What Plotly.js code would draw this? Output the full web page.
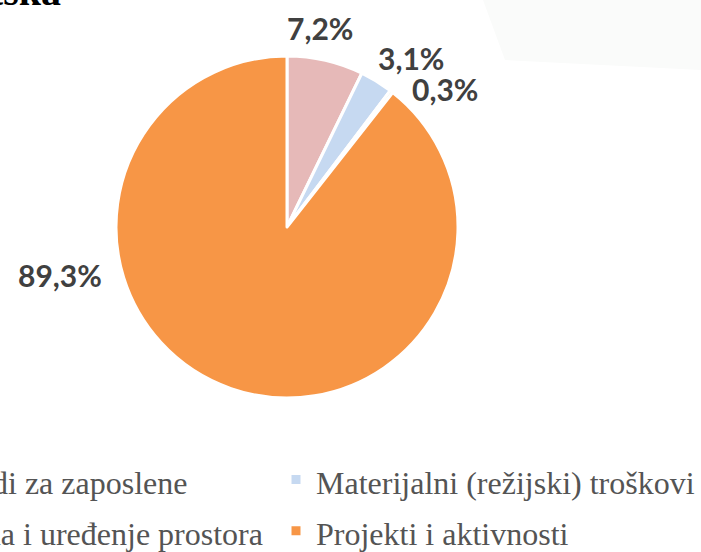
<!DOCTYPE html>
<html>
<head>
<meta charset="utf-8">
<script src="https://cdn.plot.ly/plotly-3.0.1.min.js"></script>
<style>
  html, body { margin: 0; padding: 0; background: #ffffff; overflow: hidden; width: 701px; height: 552px; }
  #chart { position: absolute; left: -140px; top: 0; width: 841px; height: 552px; }
</style>
</head>
<body>
<div id="chart"></div>
<script>
// ---- data ----
const categories = [
  "Rashodi za zaposlene",
  "Materijalni (režijski) troškovi",
  "Oprema i uređenje prostora",
  "Projekti i aktivnosti"
];
const shares = [7.2, 3.1, 0.3, 89.3];
const sliceColors = ["#E6B9B8", "#C6D9F1", "#D7E4BD", "#F79646"];
const titleText = "Hrvatska";

// ---- geometry (pixels in the visible 701x552 window) ----
const OFF = 140;               // the plot div starts 140 px left of the window
const W = 701 + OFF, H = 552;
const cx = 287 + OFF, cy = 227, R = 171;
// visible-window centres of the percentage labels, one per slice
const labelPos = [[320, 28], [411, 58], [445, 89], [60, 275]];

const legendFontPx = 32;
const legendLabels = categories.map(c => '<span style="font-size:' + legendFontPx + 'px">' + c + '</span>');

const fmt = v => v.toFixed(1).replace('.', ',') + '%';

const trace = {
  type: 'pie',
  labels: legendLabels,
  values: shares,
  sort: false,
  direction: 'clockwise',
  rotation: 0,
  marker: { colors: sliceColors, line: { color: '#ffffff', width: 3 } },
  textinfo: 'none',
  textposition: 'none',
  hoverinfo: 'label+value',
  domain: {
    x: [(cx - R) / W, (cx + R) / W],
    y: [1 - (cy + R) / H, 1 - (cy - R) / H]
  },
  showlegend: true
};

const labelAnnotations = shares.map((v, i) => ({
  text: fmt(v),
  xref: 'paper', yref: 'paper',
  x: (labelPos[i][0] + OFF) / W, y: 1 - labelPos[i][1] / H,
  xanchor: 'center', yanchor: 'middle',
  showarrow: false,
  font: { family: 'Lato', size: 30, color: '#404040', weight: 'bold' }
}));

const layout = {
  width: W, height: H,
  margin: { l: 0, r: 0, t: 0, b: 0, autoexpand: false },
  paper_bgcolor: '#ffffff',
  showlegend: true,
  legend: {
    orientation: 'h',
    x: 12 / W, xanchor: 'left',
    y: 1 - 449 / H, yanchor: 'top',
    entrywidth: 359, entrywidthmode: 'pixels',
    font: { family: 'Liberation Serif', size: 37, color: '#545454' },
    bgcolor: 'rgba(0,0,0,0)'
  },
  shapes: [{
    type: 'path', xref: 'paper', yref: 'paper',
    path: 'M ' + ((483 + OFF) / W) + ' 1 L 1 1 L 1 ' + (1 - 70 / H) + ' L ' + ((505 + OFF) / W) + ' ' + (1 - 60 / H) + ' Z',
    fillcolor: '#FAFBFA', line: { width: 0 }, layer: 'below'
  }],
  annotations: labelAnnotations.concat([{
    text: titleText,
    xref: 'paper', yref: 'paper',
    x: (63 + OFF) / W, xanchor: 'right',
    y: 1, yanchor: 'bottom', yshift: -16,
    showarrow: false,
    font: { family: 'Liberation Serif', size: 40, color: '#000000', weight: 'bold' }
  }])
};

Plotly.newPlot('chart', [trace], layout, { displayModeBar: false, staticPlot: true }).then(gd => {
  // let the long right-hand legend entry run past its entry width instead of being clipped
  gd.querySelectorAll('.legend .scrollbox').forEach(el => el.removeAttribute('clip-path'));
});
</script>
</body>
</html>
